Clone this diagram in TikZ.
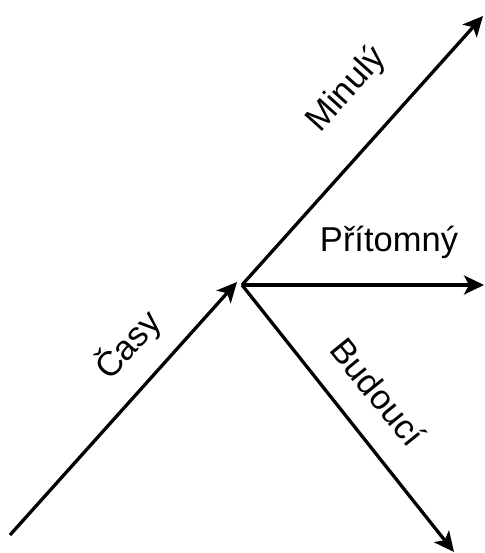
\documentclass[tikz,border=0pt]{standalone}
\usepackage{fontspec}
\setmainfont{Liberation Sans}
\usetikzlibrary{arrows.meta}
\begin{document}
\begin{tikzpicture}[x=1pt,y=1pt,
  arr/.style={line width=3.3pt,-{Stealth[length=20pt,width=19pt,inset=5pt]}},
  lbl/.style={font=\fontsize{34.5}{40}\selectfont,inner sep=0pt}]
\useasboundingbox (0,0) rectangle (484,553);
\coordinate (S) at (10,18);
\coordinate (C) at (237,271);
\coordinate (O) at (242,268);
\coordinate (U) at (483,537);
\coordinate (R) at (484,268);
\coordinate (D) at (454,1);
\draw[arr] (S) -- (C);
\draw[arr] (O) -- (U);
\draw[arr] (O) -- (R);
\draw[arr] (O) -- (D);
\node[lbl,rotate=48] (minuly) at (347,463) {Minulý};
\node[lbl,anchor=base] (pritomny) at (389,301) {Přítomný};
\node[lbl,rotate=-51] (budouci) at (378,161) {Budoucí};
\node[lbl,rotate=48] (casy) at (128,208) {Časy};
\end{tikzpicture}
\end{document}
